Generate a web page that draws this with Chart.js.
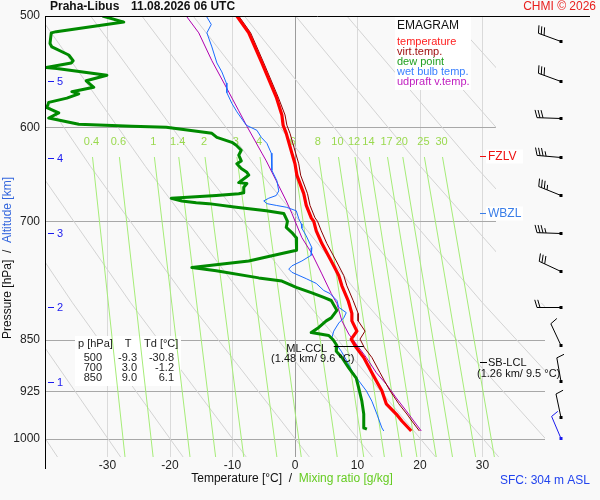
<!DOCTYPE html>
<html>
<head>
<meta charset="utf-8">
<script src="https://cdn.jsdelivr.net/npm/chart.js@4.4.1/dist/chart.umd.min.js"></script>
<style>
  html, body { margin: 0; padding: 0; background: #f9f9f9; }
  canvas { display: block; }
</style>
</head>
<body>
<canvas id="emagram" width="600" height="500"></canvas>
<script>
// sounding: pressure [hPa] / temperature [°C]
const tempP = [500, 514, 540, 571, 588, 598, 606, 626, 637, 649, 669, 682, 696, 700, 711, 726, 747, 765, 778, 797, 814, 824, 838, 849, 861, 875, 897, 909, 924, 944, 960, 971, 987];
const tempT = [-9.3, -7.4, -5.3, -3.0, -2.1, -1.9, -1.4, -0.5, 0.0, 0.3, 1.4, 1.8, 2.6, 3.0, 3.4, 4.3, 5.8, 7.0, 7.5, 8.5, 9.1, 9.1, 9.9, 9.0, 9.8, 11.0, 12.3, 13.0, 13.9, 14.6, 16.2, 17.1, 18.6];
const virtT = [-9.0, -7.1, -5.0, -2.7, -1.6, -1.3, -0.8, 0.1, 0.6, 0.9, 2.0, 2.4, 3.2, 3.6, 4.2, 5.1, 6.6, 7.8, 8.3, 9.3, 10.1, 10.1, 11.2, 10.4, 11.1, 12.3, 13.6, 14.3, 15.2, 16.6, 17.9, 18.7, 19.9];

const dewP = [500, 505, 513, 514, 523, 526, 533, 538, 540, 544, 545, 551, 556, 562, 566, 568, 572, 576, 581, 586, 591, 597, 599, 600, 606, 610, 615, 618, 623, 628, 634, 637, 642, 646, 649, 651, 657, 658, 662, 668, 669, 671, 674, 677, 679, 680, 684, 688, 691, 700, 707, 713, 719, 726, 734, 738, 747, 755, 759, 768, 772, 780, 787, 793, 797, 810, 820, 824, 833, 840, 844, 850, 858, 866, 875, 890, 905, 920, 940, 960, 982, 984];
const dewT = [-30.8, -27.4, -38.2, -39.0, -39.2, -38.9, -36.2, -35.5, -35.8, -39.8, -38.1, -30.1, -33.4, -32.2, -35.7, -34.6, -36.5, -39.4, -39.7, -37.8, -39.4, -34.6, -26.1, -20.6, -13.3, -12.5, -10.1, -9.4, -8.6, -9.0, -8.6, -9.3, -8.6, -7.7, -7.4, -7.8, -9.0, -7.7, -8.2, -8.2, -9.0, -12.6, -19.8, -18.1, -15.8, -13.8, -9.4, -4.6, -1.8, -1.2, -1.4, -0.5, 0.2, 0.3, 0.2, -2.1, -7.4, -16.5, -12.6, -5.8, -2.1, 0.2, 2.7, 4.6, 5.8, 6.7, 5.8, 5.0, 3.8, 2.6, 5.4, 6.1, 6.7, 6.6, 7.5, 8.6, 9.8, 10.2, 10.7, 11.0, 11.0, 11.5];

const wetBulbP = [500, 507, 514, 526, 540, 548, 558, 567, 577, 585, 598, 603, 610, 616, 626, 634, 644, 655, 666, 671, 674, 677, 680, 682, 684, 688, 697, 703, 708, 717, 731, 740, 747, 753, 757, 761, 769, 775, 784, 788, 797, 806, 813, 820, 827, 838, 847, 856, 866, 880, 894, 909, 924, 940, 960, 982, 987];
const wetBulbT = [-14.2, -13.4, -14.1, -13.3, -12.5, -11.7, -11.0, -10.9, -10.1, -9.3, -7.8, -6.1, -5.4, -4.5, -3.8, -3.7, -3.7, -2.9, -2.6, -3.0, -4.2, -5.0, -4.5, -3.0, -1.4, 0.2, 0.6, 1.0, 1.1, 1.8, 2.7, 2.6, 1.1, -0.5, -1.0, -0.5, 1.8, 3.4, 4.6, 5.6, 6.7, 7.0, 8.2, 7.8, 7.0, 6.2, 5.9, 6.6, 7.4, 8.3, 9.1, 10.2, 11.4, 12.3, 13.1, 13.9, 14.2];

const updraftP = [500, 514, 538, 562, 584, 599, 626, 634, 655, 677, 691, 719, 738, 763, 788, 801, 824, 842, 856, 875, 897, 914, 935, 955, 987];
const updraftT = [-17.4, -15.4, -13.3, -11.0, -9.0, -7.7, -5.3, -4.6, -3.0, -1.4, -0.5, 1.1, 2.7, 4.3, 5.8, 6.7, 7.5, 8.6, 9.8, 11.4, 13.0, 14.6, 16.2, 17.8, 20.2];

// background: dry adiabats (T at 500, 640, 800, 1030 hPa), mixing ratio lines (T at 630 and 1030 hPa)
const adiabatP = [500, 640, 800, 1030];
const adiabatT = [
  [-81.9, -67.9, -54.4, -38.0],
  [-73.7, -59.1, -45.0, -27.9],
  [-65.5, -50.3, -35.6, -17.9],
  [-57.3, -41.5, -26.3, -7.8],
  [-49.1, -32.7, -16.9, 2.3],
  [-40.9, -23.9, -7.5, 12.4],
  [-32.7, -15.1, 1.9, 22.5],
  [-24.5, -6.3, 11.3, 32.6],
  [-16.3, 2.5, 20.6, 42.7],
  [-8.1, 11.3, 30.0, 52.7],
  [0.1, 20.1, 39.4, 62.8],
  [8.3, 28.9, 48.8, 72.9],
  [16.5, 37.7, 58.2, 83.0],
  [24.7, 46.5, 67.6, 93.1],
  [32.9, 55.3, 76.9, 103.2]
];
const mixLabels = ['0.4', '0.6', '1', '1.4', '2', '3', '4', '6', '8', '10', '12', '14', '17', '20', '25', '30'];
const mixTopP = 630, mixBottomP = 1030;
const mixTop = [-32.4, -28.1, -22.5, -18.6, -14.4, -9.3, -5.6, -0.2, 3.8, 6.95, 9.6, 11.9, 14.8, 17.25, 20.7, 23.6];
const mixBottom = [-27.2, -22.7, -16.8, -12.7, -8.2, -2.9, 1.0, 6.75, 11.0, 14.3, 17.1, 19.5, 22.6, 25.2, 28.9, 31.9];

const pTicks = [500, 600, 700, 850, 925, 1000];
const altKm = ['1', '2', '3', '4', '5'];
const altP = [911, 806, 714, 631, 556];

const windP = [521, 556, 591, 630, 671, 713, 759, 806, 857, 909, 964, 998];
const windDir = [290, 290, 272, 275, 292, 272, 295, 270, 335, 350, 348, 337];
const windKt = [30, 30, 30, 35, 35, 35, 30, 20, 10, 10, 10, 10];

const tableP = ['500', '700', '850'];
const tableT = ['-9.3', '3.0', '9.0'];
const tableTd = ['-30.8', '-1.2', '6.1'];

const fzlvP = 629, wbzlP = 690;
const cclP = 858, cclT = [6.2, 11.0];
const lclP = 881;

const FONT = "Arial, 'Liberation Sans', Helvetica, sans-serif";
let boxesDone = false;

function pts(ps, ts) {
  return ps.map((p, i) => ({ x: ts[i], y: p }));
}

const datasets = [
  { data: pts(tempP, tempT), borderColor: '#ff0000', borderWidth: 3.2, order: 1 },
  { data: pts(dewP, dewT), borderColor: '#008a00', borderWidth: 3, order: 2 },
  { data: pts(tempP, virtT), borderColor: '#8a0000', borderWidth: 1, order: 3 },
  { data: pts(wetBulbP, wetBulbT), borderColor: '#1a6cff', borderWidth: 1, order: 4 },
  { data: pts(updraftP, updraftT), borderColor: '#b000b0', borderWidth: 1, order: 5 }
];
mixTop.forEach((t, i) => {
  datasets.push({ kind: 'mr', data: [{ x: t, y: mixTopP }, { x: mixBottom[i], y: mixBottomP }],
    borderColor: '#a6ec78', borderWidth: 1, order: 20 });
});
adiabatT.forEach(row => {
  // upper part is cut off where the wind column starts
  datasets.push({ kind: 'ad', data: pts(adiabatP.slice(0, 3), row.slice(0, 3)),
    borderColor: '#d3d3d3', borderWidth: 1, order: 30, clip: { left: 0, top: 0, right: -49, bottom: 0 } });
  datasets.push({ kind: 'ad', data: pts(adiabatP.slice(2), row.slice(2)),
    borderColor: '#d3d3d3', borderWidth: 1, order: 30 });
});
datasets.forEach(d => {
  d.showLine = true;
  d.pointRadius = 0;
  d.fill = false;
  d.borderJoinStyle = 'round';
});

function drawBoxes(chart) {
  const c = chart.ctx, xs = chart.scales.x, ys = chart.scales.y;
  c.save();
  c.fillStyle = '#ffffff';
  c.fillRect(395, 17, 76, 73);
  c.fillRect(75, 336, 106, 50);
  c.font = '11px ' + FONT;
  c.fillStyle = '#9ad94f';
  c.textAlign = 'center';
  c.textBaseline = 'middle';
  mixLabels.forEach((m, i) => c.fillText(m, xs.getPixelForValue(mixTop[i]) - 1, ys.getPixelForValue(615)));
  c.restore();
}

function drawBarb(c, x0, y0, dir, kt, color) {
  const r = dir * Math.PI / 180;
  const ux = Math.sin(r), uy = -Math.cos(r);
  const L = 24;
  const ex = x0 + ux * L, ey = y0 + uy * L;
  const px = -uy, py = ux;
  c.strokeStyle = color;
  c.fillStyle = color;
  c.lineWidth = 1;
  c.beginPath(); c.moveTo(x0, y0); c.lineTo(ex, ey); c.stroke();
  c.fillRect(x0 - 1.5, y0 - 1.5, 3, 3);
  const bar = (off, len) => {
    const bx = ex - ux * off, by = ey - uy * off;
    c.beginPath();
    c.moveTo(bx, by);
    c.lineTo(bx + (px * 0.96 + ux * 0.28) * len, by + (py * 0.96 + uy * 0.28) * len);
    c.stroke();
  };
  let off = 0;
  for (let i = 0; i < Math.floor(kt / 10); i++) { bar(off, 8); off += 3; }
  if (kt % 10 >= 5) bar(off, 5);
}

function colorText(c, parts, x, y) {
  // parts: [text, color] drawn one after another from x
  parts.forEach(([t, col]) => {
    c.fillStyle = col;
    c.fillText(t, x, y);
    x += c.measureText(t).width;
  });
}

const emagramPlugin = {
  id: 'emagram',
  beforeDraw(chart) {
    const c = chart.ctx;
    c.save();
    c.fillStyle = '#f9f9f9';
    c.fillRect(0, 0, chart.width, chart.height);
    c.restore();
    boxesDone = false;
  },
  beforeDatasetsDraw(chart) {
    const c = chart.ctx, a = chart.chartArea, ys = chart.scales.y;
    c.save();
    c.strokeStyle = '#a8a8a8';
    c.lineWidth = 1;
    pTicks.slice(1).forEach(p => {
      const py = Math.round(ys.getPixelForValue(p)) + 0.5;
      c.beginPath();
      c.moveTo(a.left, py);
      c.lineTo(p < 800 ? a.right - 49 : a.right, py);
      c.stroke();
    });
    c.restore();
  },
  beforeDatasetDraw(chart, args) {
    if (!boxesDone && chart.data.datasets[args.index].kind === 'mr') {
      drawBoxes(chart);
      boxesDone = true;
    }
  },
  afterDatasetsDraw(chart) {
    const c = chart.ctx, a = chart.chartArea, xs = chart.scales.x, ys = chart.scales.y;
    const X = v => xs.getPixelForValue(v), Y = v => ys.getPixelForValue(v);
    c.save();

    // frame: top line and longer left axis
    c.strokeStyle = '#000';
    c.lineWidth = 1;
    c.beginPath();
    c.moveTo(a.left, a.top + 0.5); c.lineTo(590, a.top + 0.5);
    c.moveTo(a.left + 0.5, a.top); c.lineTo(a.left + 0.5, a.bottom + 12);
    c.stroke();

    // title
    c.textBaseline = 'middle';
    c.textAlign = 'left';
    c.font = 'bold 12px ' + FONT;
    c.fillStyle = '#111';
    c.fillText('Praha-Libus', 50, 7);
    c.fillText('11.08.2026 06 UTC', 131, 7);
    c.font = '12px ' + FONT;
    c.fillStyle = '#e8201e';
    c.textAlign = 'right';
    c.fillText('CHMI \u00a9 2026', 596, 7);

    // legend
    c.textAlign = 'left';
    c.font = '12px ' + FONT;
    c.fillStyle = '#111';
    c.fillText('EMAGRAM', 397, 26);
    c.font = '11px ' + FONT;
    [['temperature', '#ff2020'], ['virt.temp.', '#a01010'], ['dew point', '#20a020'],
     ['wet bulb temp.', '#3a80ff'], ['udpraft v.temp.', '#c020c0']].forEach(([t, col], i) => {
      c.fillStyle = col;
      c.fillText(t, 397, 42 + i * 10);
    });

    // table
    c.fillStyle = '#222';
    c.font = '11px ' + FONT;
    c.fillText('p [hPa]', 78, 344);
    c.fillText('Td [\u00b0C]', 144, 344);
    c.textAlign = 'center';
    c.fillText('T', 128, 344);
    c.textAlign = 'right';
    tableP.forEach((p, i) => {
      const ty = 358 + i * 10;
      c.fillText(p, 102, ty);
      c.fillText(tableT[i], 137, ty);
      c.fillText(tableTd[i], 174, ty);
    });

    // altitude marks
    c.strokeStyle = '#1a1aee';
    c.fillStyle = '#1a1aee';
    c.textAlign = 'left';
    altKm.forEach((k, i) => {
      const py = Math.round(Y(altP[i])) + 0.5;
      c.beginPath(); c.moveTo(a.left + 3, py); c.lineTo(a.left + 9, py); c.stroke();
      c.fillText(k, a.left + 12, py);
    });

    // freezing / wet bulb zero levels
    c.font = '12px ' + FONT;
    [[fzlvP, 'FZLV', '#ee1111'], [wbzlP, 'WBZL', '#3a7ee8']].forEach(([p, t, col]) => {
      const py = Math.round(Y(p)) + 0.5;
      c.fillStyle = '#ffffff';
      c.fillRect(a.right - 59, py - 7, 37, 14);
      c.strokeStyle = col;
      c.beginPath(); c.moveTo(a.right - 65, py); c.lineTo(a.right - 59, py); c.stroke();
      c.fillStyle = col;
      c.fillText(t, a.right - 57, py);
    });

    // ML-CCL
    c.strokeStyle = '#000';
    c.fillStyle = '#111';
    c.font = '11px ' + FONT;
    const cy = Math.round(Y(cclP)) + 0.5;
    c.beginPath(); c.moveTo(X(cclT[0]), cy); c.lineTo(X(cclT[1]), cy); c.stroke();
    c.textAlign = 'center';
    c.fillText('ML-CCL', X(cclT[0]) - 27, cy + 2);
    c.fillText('(1.48 km/ 9.6 \u00b0C)', X(cclT[0]) - 21, cy + 12);

    // SB-LCL
    const ly = Math.round(Y(lclP)) + 0.5;
    c.beginPath(); c.moveTo(a.right - 65, ly); c.lineTo(a.right - 58, ly); c.stroke();
    c.textAlign = 'left';
    c.fillText('SB-LCL', a.right - 57, ly);
    c.fillText('(1.26 km/ 9.5 \u00b0C)', a.right - 68, ly + 11);

    // wind barbs
    windP.forEach((p, i) => {
      drawBarb(c, a.right + 16, Math.round(Y(p)) + 0.5, windDir[i], windKt[i], i === windP.length - 1 ? '#1a1aee' : '#000');
    });

    // axis titles
    c.font = '12px ' + FONT;
    c.textAlign = 'left';
    const xParts = [['Temperature [\u00b0C]  /  ', '#111'], ['Mixing ratio [g/kg]', '#66cc22']];
    const xw = xParts.reduce((s, p) => s + c.measureText(p[0]).width, 0);
    colorText(c, xParts, 292 - xw / 2, 479);

    const yParts = [['Pressure [hPa]  /  ', '#111'], ['Altitude [km]', '#3366dd']];
    const yw = yParts.reduce((s, p) => s + c.measureText(p[0]).width, 0);
    c.save();
    c.translate(8, 258);
    c.rotate(-Math.PI / 2);
    colorText(c, yParts, -yw / 2, 0);
    c.restore();

    c.font = '12px ' + FONT;
    c.fillStyle = '#2244ee';
    c.textAlign = 'right';
    c.fillText('SFC: 304 m ASL', 590, 481);

    c.restore();
  }
};

const ctx = document.getElementById('emagram').getContext('2d');
new Chart(ctx, {
  type: 'scatter',
  data: { datasets },
  options: {
    responsive: false,
    animation: false,
    devicePixelRatio: 1,
    layout: { padding: { top: 16, right: 55, left: 0, bottom: 0 } },
    plugins: { legend: { display: false }, tooltip: { enabled: false } },
    elements: { line: { tension: 0 } },
    scales: {
      x: {
        type: 'linear',
        min: -40,
        max: 40,
        border: { display: false },
        grid: {
          drawTicks: false,
          color: g => g.tick.value === 0 ? '#9c9c9c' : (Math.abs(g.tick.value) === 40 ? 'rgba(0,0,0,0)' : '#dadada')
        },
        ticks: {
          stepSize: 10,
          padding: 1,
          color: '#222',
          font: { family: FONT, size: 12 },
          callback: v => Math.abs(v) === 40 ? '' : v
        },
        afterFit: s => { s.height = 43; }
      },
      y: {
        type: 'logarithmic',
        reverse: true,
        min: 500,
        max: 1030,
        border: { display: true, color: '#000', width: 1 },
        grid: { drawOnChartArea: false, drawTicks: false },
        ticks: {
          padding: 5,
          color: '#222',
          font: { family: FONT, size: 12 },
          callback: v => String(v)
        },
        afterBuildTicks: s => { s.ticks = pTicks.map(v => ({ value: v })); },
        afterFit: s => { s.width = 45; }
      }
    }
  },
  plugins: [emagramPlugin]
});
</script>
</body>
</html>
